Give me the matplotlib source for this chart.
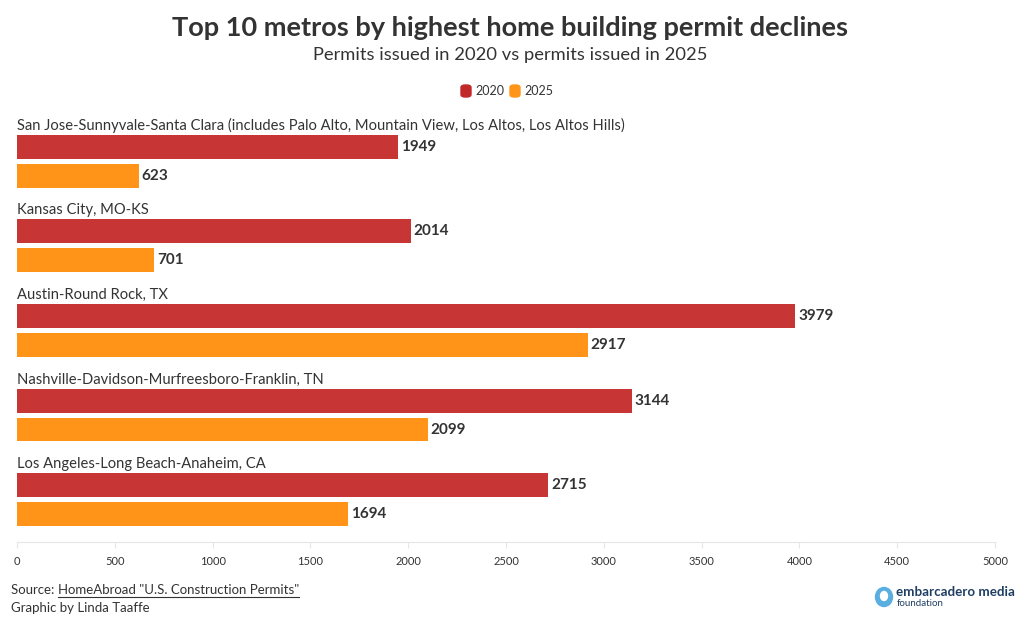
import matplotlib
matplotlib.use("Agg")
import matplotlib.pyplot as plt
from matplotlib.patches import FancyBboxPatch, Ellipse
from matplotlib.lines import Line2D

metros = [
    "San Jose-Sunnyvale-Santa Clara (includes Palo Alto, Mountain View, Los Altos, Los Altos Hills)",
    "Kansas City, MO-KS",
    "Austin-Round Rock, TX",
    "Nashville-Davidson-Murfreesboro-Franklin, TN",
    "Los Angeles-Long Beach-Anaheim, CA",
]
permits_2020 = [1949, 2014, 3979, 3144, 2715]
permits_2025 = [623, 701, 2917, 2099, 1694]
xticks = [0, 500, 1000, 1500, 2000, 2500, 3000, 3500, 4000, 4500, 5000]

plt.rcParams['font.family'] = ['Lato', 'DejaVu Sans']
red = "#c83535"
orange = "#ff9418"
dark = "#333333"

fig = plt.figure(figsize=(10.2, 6.28), dpi=100)
W, H = 1020, 628
ax = fig.add_axes([17 / W, 1 - 542 / H, (995 - 17) / W, (542 - 115) / H])

off = 29 / 85
h = 24 / 85
for i, name in enumerate(metros):
    ax.barh(i, permits_2020[i], height=h, color=red)
    ax.barh(i + off, permits_2025[i], height=h, color=orange)
    ax.text(0, i - 0.25, name, fontsize=10.6, color=dark, va="center", ha="left")
    ax.text(permits_2020[i] + 15, i, str(permits_2020[i]), fontsize=11, fontweight="bold",
            color=dark, va="center", ha="left")
    ax.text(permits_2025[i] + 15, i + off, str(permits_2025[i]), fontsize=11, fontweight="bold",
            color=dark, va="center", ha="left")

ax.set_xlim(0, 5000)
ax.set_ylim(4.67, -0.375)
ax.set_xticks(xticks)
ax.set_xticklabels([str(t) for t in xticks], fontsize=8, color=dark)
ax.set_yticks([])
for s in ["top", "right", "left"]:
    ax.spines[s].set_visible(False)
ax.spines["bottom"].set_color("#e6e6e6")
ax.tick_params(axis="x", length=4, color="#e6e6e6", pad=6)

fig.text(0.5, 1 - 28 / H, "Top 10 metros by highest home building permit declines",
         fontsize=19.5, fontweight="bold", color=dark, ha="center", va="center")
fig.text(0.5, 1 - 55 / H, "Permits issued in 2020 vs permits issued in 2025",
         fontsize=13.2, color=dark, ha="center", va="center")

# legend
for x0, col, lab in [(461, "#c0282a", "2020"), (510, orange, "2025")]:
    fig.patches.append(FancyBboxPatch(((x0) / W, 1 - 97 / H), 10 / W, 12 / H,
                                      boxstyle="round,pad=0,rounding_size=0.004",
                                      transform=fig.transFigure, color=col))
    fig.text((x0 + 14) / W, 1 - 91 / H, lab, fontsize=9, color=dark, va="center", ha="left")

# footer
src = fig.text(11 / W, 1 - 590 / H, "Source: ", fontsize=9.5, color=dark, va="center", ha="left")
fig.canvas.draw()
bb = src.get_window_extent()
x1 = bb.x1 / W
link = fig.text(x1, 1 - 590 / H, 'HomeAbroad "U.S. Construction Permits"', fontsize=9.5,
                color=dark, va="center", ha="left")
fig.canvas.draw()
lb = link.get_window_extent()
fig.lines.append(Line2D([lb.x0 / W, lb.x1 / W], [(lb.y0 - 1) / H, (lb.y0 - 1) / H],
                        transform=fig.transFigure, color=dark, lw=0.8))
fig.text(11 / W, 1 - 608 / H, "Graphic by Linda Taaffe", fontsize=9.5, color=dark,
         va="center", ha="left")

# logo
fig.patches.append(Ellipse((884 / W, 1 - 597 / H), 17 / W, 19 / H, transform=fig.transFigure,
                           color="#5aaee0"))
fig.patches.append(Ellipse((884 / W, 1 - 596 / H), 7 / W, 9 / H, transform=fig.transFigure,
                           color="white"))
fig.text(896 / W, 1 - 592 / H, "embarcadero media", fontsize=9.6, fontweight="bold",
         color="#1f3e63", va="center", ha="left")
fig.text(897 / W, 1 - 604 / H, "foundation", fontsize=7, color="#1f3e63", va="center", ha="left")

fig.savefig("out.png", dpi=100)
